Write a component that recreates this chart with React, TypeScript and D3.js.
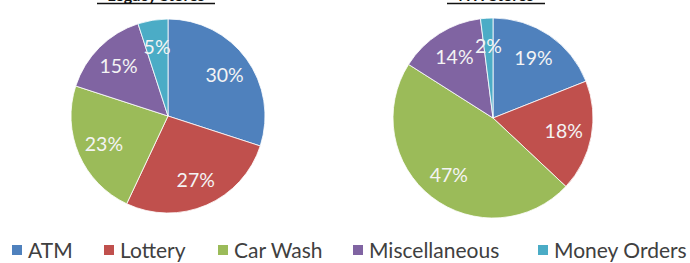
import React from 'react';
import * as d3 from 'd3';

const categories = ['ATM', 'Lottery', 'Car Wash', 'Miscellaneous', 'Money Orders'];
const legacyValues = [30, 27, 23, 15, 5];
const ntiValues = [19, 18, 47, 14, 2];
const chartTitles = ['Legacy Stores', 'NTI Stores'];
const colors = ['#4F81BD', '#C0504D', '#9BBB59', '#8064A2', '#4BACC6'];

const FONT = 'Lato, "Open Sans", sans-serif';

type PieProps = { values: number[]; cx: number; cy: number; r: number; title: string; titleX: number };

const Pie = ({ values, cx, cy, r, title, titleX }: PieProps) => {
  const pie = d3.pie<number>().sort(null).value((d) => d);
  const arcs = pie(values);
  const arc = d3.arc<d3.PieArcDatum<number>>().innerRadius(0).outerRadius(r);
  const labelArc = d3.arc<d3.PieArcDatum<number>>().innerRadius(r * 0.72).outerRadius(r * 0.72);

  return (
    <g>
      {/* title is mostly cropped off the top of the picture, as in the source */}
      <text x={titleX} y={1} textAnchor="middle" fontFamily={FONT} fontWeight="bold" fontSize={16} fill="#111">
        {title}
      </text>
      <g transform={`translate(${cx},${cy})`}>
        {arcs.map((a, i) => (
          <path key={i} d={arc(a) || ''} fill={colors[i]} stroke="#fff" strokeWidth={0.8} />
        ))}
        {arcs.map((a, i) => {
          const [x, y] = labelArc.centroid(a);
          return (
            <text key={i} x={x} y={y} dy="0.35em" textAnchor="middle" fontFamily={FONT} fontSize={19.5} fill="#f4f4f4">
              {`${values[i]}%`}
            </text>
          );
        })}
      </g>
    </g>
  );
};

const legendX = [12, 104, 218, 353, 538];

export default function App() {
  return (
    <svg width={690} height={263} style={{ position: 'absolute', left: 0, top: 0, background: '#fff' }}>
      <Pie values={legacyValues} cx={168} cy={116} r={97} title={chartTitles[0]} titleX={156} />
      <Pie values={ntiValues} cx={493} cy={118} r={100} title={chartTitles[1]} titleX={496} />
      {/* underline under cropped titles */}
      <line x1={97} x2={215} y1={3.5} y2={3.5} stroke="#111" strokeWidth={1.5} />
      <line x1={447} x2={545} y1={3.5} y2={3.5} stroke="#111" strokeWidth={1.5} />
      <g>
        {categories.map((c, i) => (
          <g key={c} transform={`translate(${legendX[i]},0)`}>
            <rect x={0} y={245} width={10} height={10} fill={colors[i]} />
            <text x={16} y={257.5} fontFamily={FONT} fontSize={21} fill="#404040">
              {c}
            </text>
          </g>
        ))}
      </g>
    </svg>
  );
}
